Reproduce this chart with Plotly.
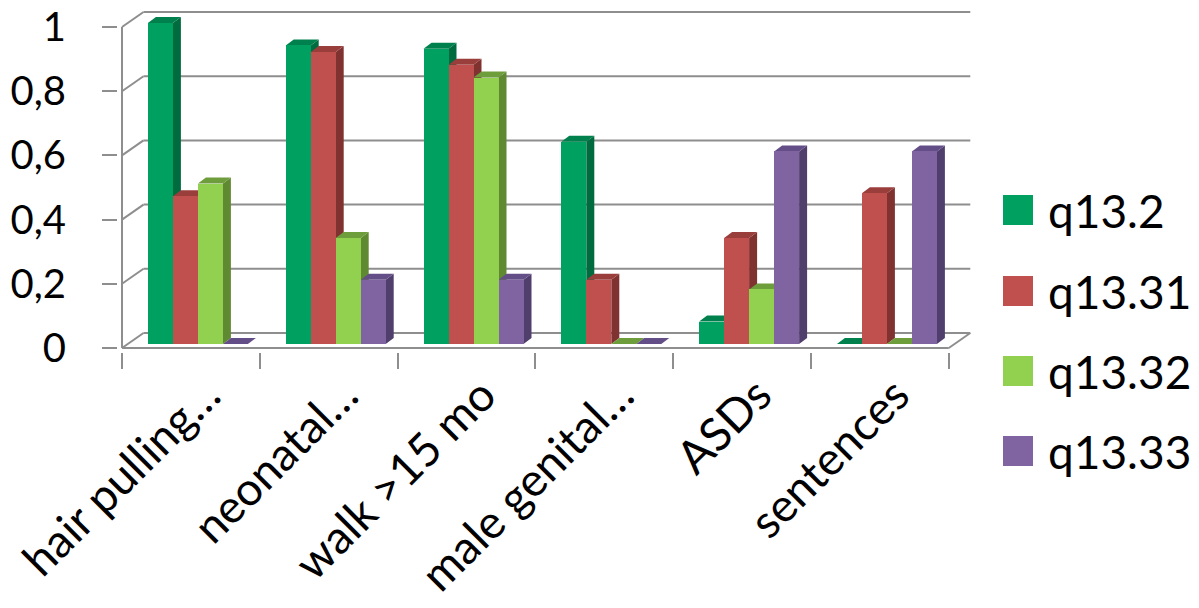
import plotly.graph_objects as go

# ---- data -------------------------------------------------------------
categories = ["hair pulling…", "neonatal…", "walk >15 mo", "male genital…", "ASDs", "sentences"]
series_names = ["q13.2", "q13.31", "q13.32", "q13.33"]
q13_2 = [1.00, 0.93, 0.92, 0.63, 0.07, 0.00]
q13_31 = [0.46, 0.91, 0.87, 0.20, 0.33, 0.47]
q13_32 = [0.50, 0.33, 0.83, 0.00, 0.17, 0.00]
q13_33 = [0.00, 0.20, 0.20, 0.00, 0.60, 0.60]
y_ticks = [0, 0.2, 0.4, 0.6, 0.8, 1.0]
y_tick_labels = ["0", "0,2", "0,4", "0,6", "0,8", "1"]

series_values = [q13_2, q13_31, q13_32, q13_33]

# face colours: front, right side, top
front_colors = ["#00A060", "#C0504D", "#92D050", "#8064A2"]
side_colors = ["#006B3F", "#7F3230", "#5F8A32", "#503E6C"]
top_colors = ["#00804C", "#9A3E3C", "#6E9E3C", "#644E88"]

GRID = "#8E8E8E"
FONT = "Lato, 'Open Sans', sans-serif"

# ---- geometry of the pseudo-3D box ------------------------------------
W, H = 1199, 608
ORIGIN_X, ORIGIN_Y = 122, 348          # front-left-bottom corner (px)
PX_CAT, PX_VAL = 137.8, 321.0          # px per category / per unit value
PLOT_L, PLOT_R, PLOT_T, PLOT_B = 118, 975, 6, 352

x_range = [(PLOT_L - ORIGIN_X) / PX_CAT, (PLOT_R - ORIGIN_X) / PX_CAT]
y_range = [(ORIGIN_Y - PLOT_B) / PX_VAL, (ORIGIN_Y - PLOT_T) / PX_VAL]
margin = dict(l=PLOT_L, r=W - PLOT_R, t=PLOT_T, b=H - PLOT_B, pad=0)

WALL_DX, WALL_DY = 21.5 / PX_CAT, 15.0 / PX_VAL   # depth of back wall
FACE_DX, FACE_DY = 7.0 / PX_CAT, 4.0 / PX_VAL     # bar front plane
BAR_DX, BAR_DY = 8.0 / PX_CAT, 6.0 / PX_VAL       # bar depth
BAR_W = 25.0 / PX_CAT
GROUP_PAD = (1 - 4 * BAR_W) / 2

n_cat = len(categories)


def px_x(px):
    return (px - PLOT_L) / (PLOT_R - PLOT_L)


def px_y(py):
    return (PLOT_B - py) / (PLOT_B - PLOT_T)


def path(pts):
    return "M " + " L ".join(f"{x:.5f},{y:.5f}" for x, y in pts) + " Z"


shapes = []

# back wall gridlines and left-wall diagonals
for v in y_ticks:
    shapes.append(dict(type="line", xref="x", yref="y", layer="below",
                       x0=WALL_DX, x1=n_cat + WALL_DX, y0=v + WALL_DY, y1=v + WALL_DY,
                       line=dict(color=GRID, width=2)))
    shapes.append(dict(type="line", xref="x", yref="y", layer="below",
                       x0=0, x1=WALL_DX, y0=v, y1=v + WALL_DY,
                       line=dict(color=GRID, width=2)))

# front value axis line, floor front edge and right floor edge
shapes.append(dict(type="line", xref="x", yref="y", layer="below",
                   x0=0, x1=0, y0=0, y1=max(y_ticks), line=dict(color=GRID, width=2)))
shapes.append(dict(type="line", xref="x", yref="y", layer="below",
                   x0=0, x1=n_cat, y0=0, y1=0, line=dict(color=GRID, width=2)))
shapes.append(dict(type="line", xref="x", yref="y", layer="below",
                   x0=n_cat, x1=n_cat + WALL_DX, y0=0, y1=WALL_DY,
                   line=dict(color=GRID, width=2)))

# side and top faces of every bar (fronts are drawn by the bar traces)
bar_x = []
for s, vals in enumerate(series_values):
    xs = [i + GROUP_PAD + (s + 0.5) * BAR_W + FACE_DX for i in range(n_cat)]
    bar_x.append(xs)
    for xc, v in zip(xs, vals):
        x0, x1 = xc - BAR_W / 2, xc + BAR_W / 2
        b, t = FACE_DY, FACE_DY + v
        side = [(x1, b), (x1 + BAR_DX, b + BAR_DY), (x1 + BAR_DX, t + BAR_DY), (x1, t)]
        top = [(x0, t), (x0 + BAR_DX, t + BAR_DY), (x1 + BAR_DX, t + BAR_DY), (x1, t)]
        shapes.append(dict(type="path", xref="x", yref="y", layer="below",
                           path=path(side), fillcolor=side_colors[s], line=dict(width=0)))
        shapes.append(dict(type="path", xref="x", yref="y", layer="below",
                           path=path(top), fillcolor=top_colors[s], line=dict(width=0)))

fig = go.Figure()
for s, vals in enumerate(series_values):
    fig.add_trace(go.Bar(
        x=bar_x[s], y=vals, base=[FACE_DY] * n_cat, width=BAR_W,
        name=series_names[s], marker=dict(color=front_colors[s], line=dict(width=0)),
        showlegend=False, hoverinfo="name+y",
    ))

# legend: large swatches with labels
annotations = []
legend_rows = [210, 291, 371, 451]
for s, name in enumerate(series_names):
    cy = legend_rows[s]
    shapes.append(dict(type="rect", xref="paper", yref="paper",
                       x0=px_x(1003), x1=px_x(1033), y0=px_y(cy + 15), y1=px_y(cy - 15),
                       fillcolor=front_colors[s], line=dict(width=0)))
    annotations.append(dict(xref="paper", yref="paper", x=px_x(1046), y=px_y(cy),
                            xanchor="left", yanchor="middle", showarrow=False,
                            text=name, font=dict(family=FONT, size=46, color="black")))

fig.update_layout(
    width=W, height=H, margin=margin,
    paper_bgcolor="white", plot_bgcolor="white",
    barmode="overlay", bargap=0,
    shapes=shapes, annotations=annotations,
    showlegend=False,
    xaxis=dict(range=x_range, showgrid=False, zeroline=False, showline=False,
               tickmode="array", tickvals=[i + 0.5 for i in range(n_cat)],
               ticktext=categories, ticks="", tickangle=-45,
               ticklabelshift=16, ticklabelstandoff=6,
               tickfont=dict(family=FONT, size=46, color="black"),
               minor=dict(tickmode="linear", tick0=0, dtick=1, ticks="outside",
                          ticklen=16, tickwidth=2, tickcolor=GRID),
               automargin=False, fixedrange=True),
    yaxis=dict(range=y_range, showgrid=False, zeroline=False, showline=False,
               tickmode="array", tickvals=y_ticks, ticktext=y_tick_labels,
               ticks="outside", ticklen=15, tickwidth=2, tickcolor=GRID,
               ticklabelstandoff=28,
               tickfont=dict(family=FONT, size=40, color="black"),
               automargin=False, fixedrange=True),
)

fig.write_html("out.html")
